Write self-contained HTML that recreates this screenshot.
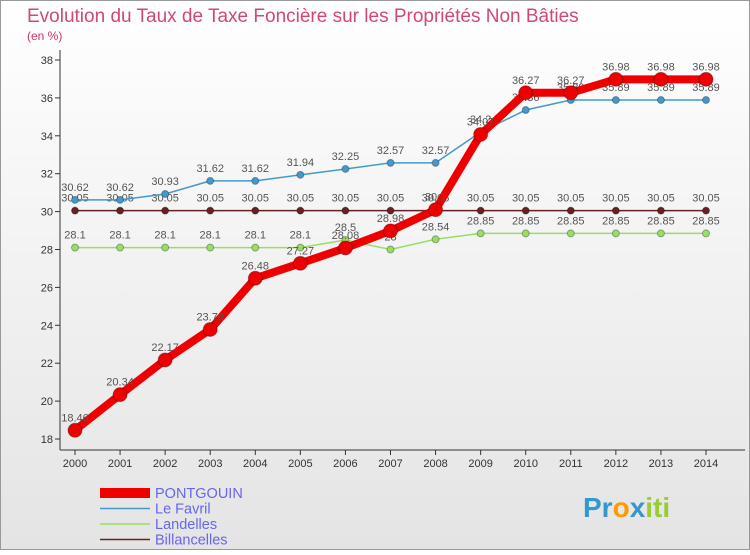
<!DOCTYPE html>
<html><head><meta charset="utf-8"><style>
body{margin:0;width:750px;height:550px;overflow:hidden;font-family:"Liberation Sans",sans-serif;}
</style></head><body>
<svg width="750" height="550" xmlns="http://www.w3.org/2000/svg">
<defs><linearGradient id="bg" x1="0" y1="0" x2="0" y2="1"><stop offset="0" stop-color="#ffffff"/><stop offset="1" stop-color="#e4e4e4"/></linearGradient></defs>
<rect x="0.5" y="0.5" width="749" height="549" fill="url(#bg)" stroke="#999"/>
<text x="27" y="22" font-size="19" fill="#cc3366" fill-opacity="0.9">Evolution du Taux de Taxe Foncière sur les Propriétés Non Bâties</text>
<text x="27" y="40" font-size="12" fill="#cc3366">(en %)</text>
<g id="axes"></g>
<g id="series"></g>
<g id="legend"></g>
<text x="583" y="517" font-size="28" font-weight="bold"><tspan fill="#3399cc">Pr</tspan><tspan fill="#ff9900">o</tspan><tspan fill="#3399cc">x</tspan><tspan fill="#99cc33">iti</tspan></text>
</svg>
<script>
const years=[2000,2001,2002,2003,2004,2005,2006,2007,2008,2009,2010,2011,2012,2013,2014];
const yTicks=[18,20,22,24,26,28,30,32,34,36,38];
const pontgouin=[18.46,20.34,22.17,23.78,26.48,27.27,28.08,28.98,30.1,34.07,36.27,36.27,36.98,36.98,36.98];
const leFavril=[30.62,30.62,30.93,31.62,31.62,31.94,32.25,32.57,32.57,34.2,35.36,35.89,35.89,35.89,35.89];
const landelles=[28.1,28.1,28.1,28.1,28.1,28.1,28.5,28,28.54,28.85,28.85,28.85,28.85,28.85,28.85];
const billancelles=[30.05,30.05,30.05,30.05,30.05,30.05,30.05,30.05,30.05,30.05,30.05,30.05,30.05,30.05,30.05];
const NS='http://www.w3.org/2000/svg';
const xs=i=>75+i*(706-75)/14;
const ys=v=>439-(v-18)*(439-60)/20;
function mk(tag,attrs,parent,text){const e=document.createElementNS(NS,tag);for(const k in attrs)e.setAttribute(k,attrs[k]);if(text!==undefined)e.textContent=text;parent.appendChild(e);return e;}
const ax=document.getElementById('axes');
let l=mk('line',{x1:60,y1:50,x2:60,y2:450,stroke:'#333'},ax);


l=mk('line',{x1:60,y1:450,x2:745,y2:450,stroke:'#333'},ax);


yTicks.forEach(t=>{const y=ys(t);mk('line',{x1:55,y1:y,x2:60,y2:y,stroke:'#333'},ax);
const tx=mk('text',{x:53,y:y+4,'font-size':11,'text-anchor':'end',fill:'#333'},ax,t);

});
years.forEach((yr,i)=>{const x=xs(i);mk('line',{x1:x,y1:450,x2:x,y2:455,stroke:'#333'},ax);
const tx=mk('text',{x:x,y:467,'font-size':11,'text-anchor':'middle',fill:'#333'},ax,yr);

});
const sg=document.getElementById('series');
const series=[
 {name:'billancelles',data:billancelles,color:'#662222',w:1.5,r:3.5,label:'Billancelles'},
 {name:'landelles',data:landelles,color:'#99dd66',w:1.5,r:3.5,label:'Landelles'},
 {name:'le-favril',data:leFavril,color:'#4499cc',w:1.5,r:3.5,label:'Le Favril'},
 {name:'pontgouin',data:pontgouin,color:'#ee0000',w:8,r:7,label:'PONTGOUIN'}];
series.forEach(s=>{const g=mk('g',{},sg);


const pl=mk('polyline',{points:s.data.map((v,i)=>xs(i)+','+ys(v)).join(' '),fill:'none',stroke:s.color,'stroke-width':s.w,'stroke-linejoin':'round'},g);


s.data.forEach((v,i)=>{const c=mk('circle',{cx:xs(i),cy:ys(v),r:s.r,fill:s.color,stroke:'rgba(0,0,0,0.3)','stroke-width':1},g);


const t=mk('text',{x:xs(i),y:ys(v)-9,'font-size':11,'text-anchor':'middle',fill:'#555'},g,v);

});});
const lg=document.getElementById('legend');
[...series].reverse().forEach((s,i)=>{const y=493+i*15.5;
const ln=mk('line',{x1:100,y1:y,x2:150,y2:y,stroke:s.color,'stroke-width':s.w===8?10:s.w},lg);


const t=mk('text',{x:155,y:y+5,'font-size':14.5,fill:'#6666ee'},lg,s.label);

});
</script>
</body></html>
